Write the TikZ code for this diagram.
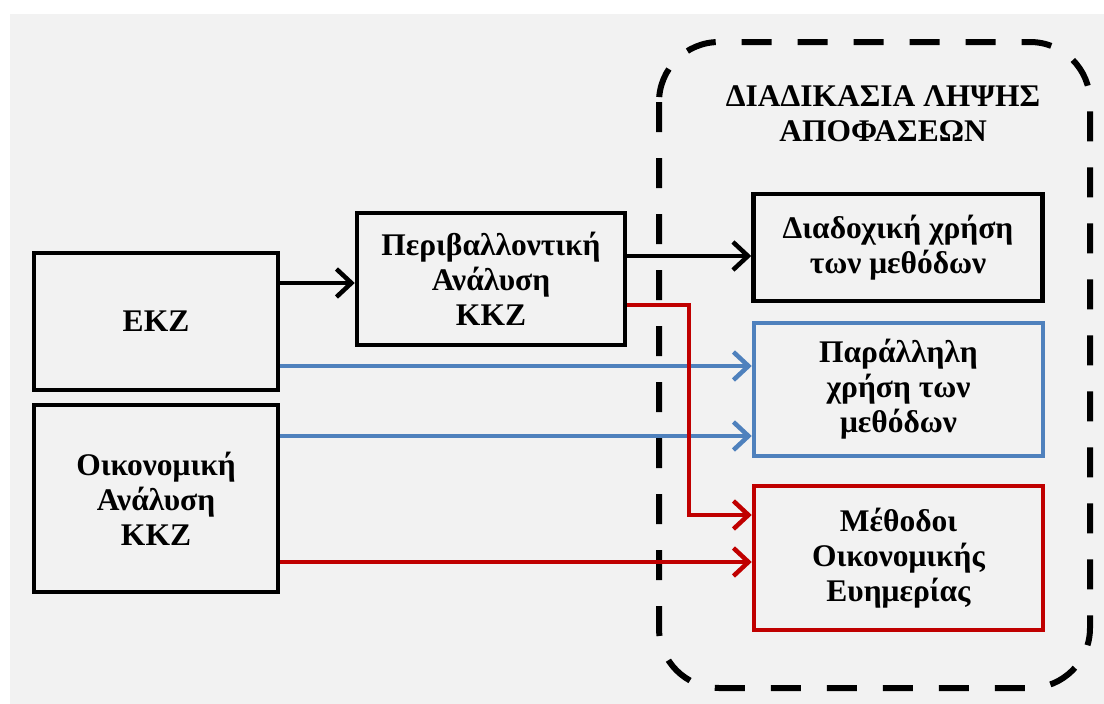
\documentclass[tikz,border=0pt]{standalone}
\usepackage{fontspec}
\setmainfont{Liberation Serif}
\usetikzlibrary{arrows.meta}
\definecolor{bg}{HTML}{F2F2F2}
\definecolor{bblue}{HTML}{4F81BD}
\definecolor{rred}{HTML}{C00000}
\tikzset{
  txt/.style={font=\fontsize{31.5}{35}\selectfont\bfseries},
  box/.style={draw=black, line width=4.5pt, align=center, inner sep=0pt, txt},
  arr/.style={line width=4.5pt, -{Straight Barb[length=15pt,width=28pt,line width=4.5pt]}},
}
\begin{document}
\begin{tikzpicture}[x=1pt,y=-1pt]
\useasboundingbox (0,0) rectangle (1104,704);
\fill[white] (0,0) rectangle (1104,704);
\fill[bg] (10,14) rectangle (1104,704);
% decision container
\draw[line width=6pt, dash pattern=on 30pt off 26pt, rounded corners=60pt]
  (659,42) rectangle (1090,688);
\node[txt, align=center] (title) at (883,114)
  {ΔΙΑΔΙΚΑΣΙΑ ΛΗΨΗΣ\\ΑΠΟΦΑΣΕΩΝ};
% boxes
\node[box, minimum width=244pt, minimum height=137pt] (ekz) at (156,321.5) {ΕΚΖ};
\node[box, minimum width=244pt, minimum height=187pt] (oik) at (156,498.5) {Οικονομική\\Ανάλυση\\ΚΚΖ};
\node[box, minimum width=268pt, minimum height=132pt] (periv) at (491,279) {Περιβαλλοντική\\Ανάλυση\\ΚΚΖ};
\node[box, minimum width=289pt, minimum height=107pt] (diad) at (898,247.5) {Διαδοχική χρήση\\των μεθόδων};
\node[box, draw=bblue, minimum width=289pt, minimum height=133pt] (par) at (898.5,389.5) {Παράλληλη\\χρήση των\\μεθόδων};
\node[box, draw=rred, minimum width=289pt, minimum height=144pt] (meth) at (898.5,558) {Μέθοδοι\\Οικονομικής\\Ευημερίας};
% connectors
\coordinate (bend1) at (689,305);
\coordinate (bend2) at (689,515);
\draw[arr] (ekz.east |- 0,283) -- (periv.west |- 0,283);
\draw[arr] (periv.east |- 0,256) -- (diad.west |- 0,256);
\draw[arr, color=bblue] (ekz.east |- 0,366) -- (par.west |- 0,366);
\draw[arr, color=bblue] (oik.east |- 0,436) -- (par.west |- 0,436);
\draw[arr, color=rred] (periv.east |- bend1) -- (bend1) -- (bend2) -- (meth.west |- bend2);
\draw[arr, color=rred] (oik.east |- 0,562) -- (meth.west |- 0,562);
\end{tikzpicture}
\end{document}
